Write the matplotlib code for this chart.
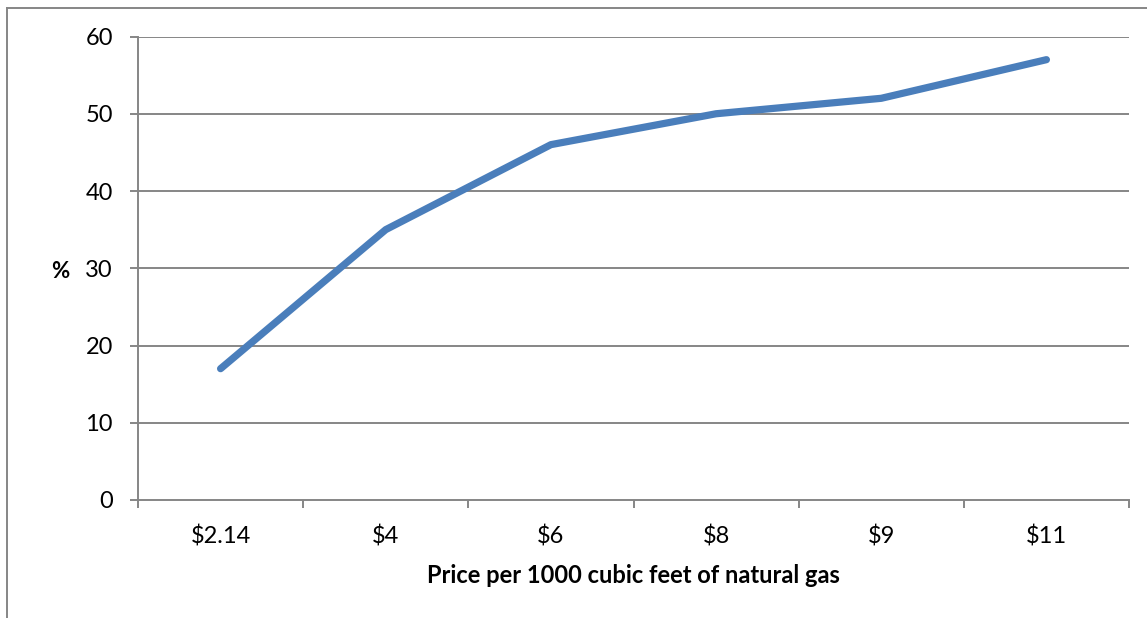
import matplotlib
matplotlib.use("Agg")
import matplotlib.pyplot as plt
from matplotlib.lines import Line2D

categories = ["$2.14", "$4", "$6", "$8", "$9", "$11"]
values = [17, 35, 46, 50, 52, 57]
y_ticks = [0, 10, 20, 30, 40, 50, 60]

plt.rcParams['font.family'] = ['Lato', 'DejaVu Sans']

W, H = 1147, 618
fig = plt.figure(figsize=(W / 100, H / 100), dpi=100)
ax = fig.add_axes([138 / W, 1 - 500 / H, (1129 - 138) / W, (500 - 36.5) / H])

grid_c = "#868686"
x = list(range(len(categories)))
ax.plot(x, values, color="#4A7EBB", lw=5.2, solid_capstyle="round", solid_joinstyle="round", zorder=3)

ax.set_xlim(-0.5, len(categories) - 0.5)
ax.set_ylim(0, 60)
ax.set_yticks(y_ticks)
ax.set_yticklabels([str(v) for v in y_ticks])
for v in y_ticks[1:]:
    ax.axhline(v, color=grid_c, lw=1.4, zorder=1)

ax.set_xticks(x)
ax.set_xticklabels(categories)
ax.set_xticks([i - 0.5 for i in range(len(categories) + 1)], minor=True)
ax.tick_params(axis="x", which="major", length=0, pad=18, labelsize=17, colors="black")
ax.tick_params(axis="x", which="minor", length=6, width=1.4, color=grid_c, direction="out")
ax.tick_params(axis="y", which="major", length=6, width=1.4, color=grid_c, pad=12, labelsize=17, direction="out")

for s in ["top", "right"]:
    ax.spines[s].set_visible(False)
for s in ["left", "bottom"]:
    ax.spines[s].set_color(grid_c)
    ax.spines[s].set_linewidth(1.4)

ax.set_xlabel("Price per 1000 cubic feet of natural gas", fontsize=17, fontweight="bold", labelpad=12)
ax.set_ylabel("%", fontsize=16, fontweight="bold", rotation=0, labelpad=0)
ax.yaxis.set_label_coords(-0.078, 0.47)

# outer chart frame
fx = 7.5 / W
fy = 1 - 7.5 / H
fig.add_artist(Line2D([fx, fx], [0, fy], color=grid_c, lw=1.4, transform=fig.transFigure))
fig.add_artist(Line2D([fx, 1], [fy, fy], color=grid_c, lw=1.4, transform=fig.transFigure))

fig.savefig("out.png", dpi=100)
